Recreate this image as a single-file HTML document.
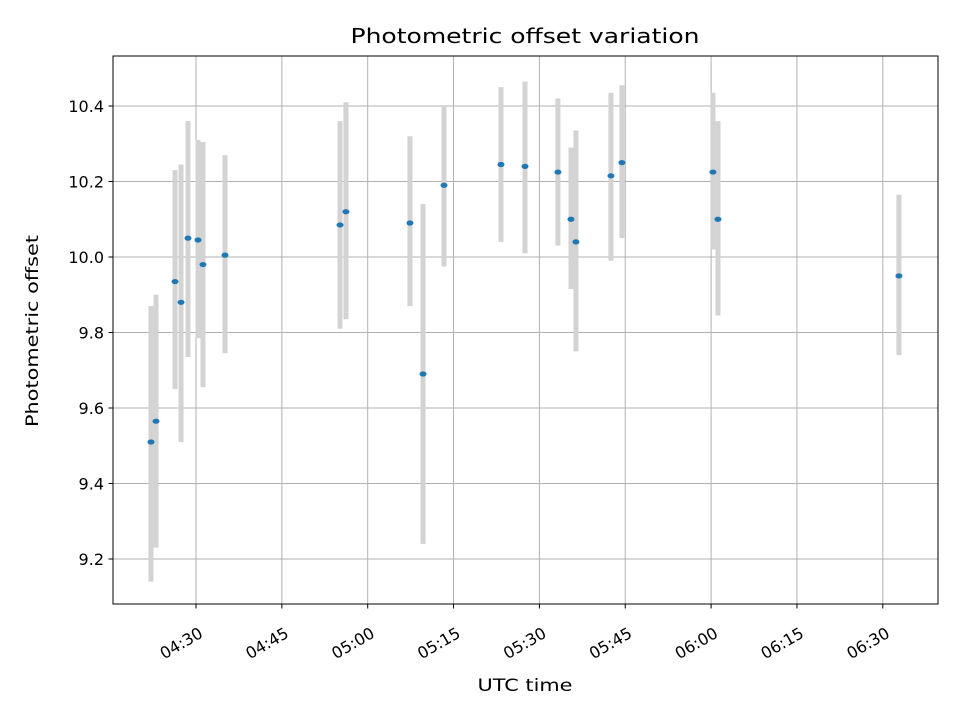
<!DOCTYPE html>
<html><head><meta charset="utf-8"><style>
body{margin:0;background:#fff}
svg text{font-family:"DejaVu Sans","Liberation Sans",sans-serif;fill:#000}
</style></head><body>
<svg id="chart" width="960" height="720" xmlns="http://www.w3.org/2000/svg">
<rect width="960" height="720" fill="#fff"/>
<g id="grid"></g>
<g id="bars"></g>
<g id="pts"></g>
<rect x="113" y="56" width="825" height="548" fill="none" stroke="#000" stroke-width="1"/>
<g id="ticks"></g>
<text x="525" y="43" text-anchor="middle" font-size="20" textLength="349" lengthAdjust="spacingAndGlyphs">Photometric offset variation</text>
<text x="525" y="691" text-anchor="middle" font-size="17" textLength="95" lengthAdjust="spacingAndGlyphs">UTC time</text>
<text transform="translate(38,331) rotate(-90)" text-anchor="middle" font-size="17" textLength="192" lengthAdjust="spacingAndGlyphs">Photometric offset</text>
</svg>
<script>
const times=["04:22:08","04:23:01","04:26:20","04:27:23","04:28:36","04:30:21","04:31:13","04:35:04","04:55:10","04:56:12","05:07:23","05:09:40","05:13:20","05:23:17","05:27:29","05:33:14","05:35:31","05:36:23","05:42:30","05:44:25","06:00:19","06:01:12","06:32:49"];
const values=[9.51,9.565,9.935,9.88,10.05,10.045,9.98,10.005,10.085,10.12,10.09,9.69,10.19,10.245,10.24,10.225,10.10,10.04,10.215,10.25,10.225,10.10,9.95];
const upper=[9.87,9.90,10.23,10.245,10.36,10.31,10.305,10.27,10.36,10.41,10.32,10.14,10.40,10.45,10.465,10.42,10.29,10.335,10.435,10.455,10.435,10.36,10.165];
const lower=[9.14,9.23,9.65,9.51,9.735,9.785,9.655,9.745,9.81,9.835,9.87,9.24,9.975,10.04,10.01,10.03,9.915,9.75,9.99,10.05,10.02,9.845,9.74];
const xTickLabels=["04:30","04:45","05:00","05:15","05:30","05:45","06:00","06:15","06:30"];
const yTickLabels=["9.2","9.4","9.6","9.8","10.0","10.2","10.4"];
const NS="http://www.w3.org/2000/svg";
function mins(s){const p=s.split(":").map(Number);return p[0]*60+p[1]+(p[2]||0)/60;}
const x=m=>196+(m-270)*(85.85/15);
const y=v=>257-(v-10)*(75.5/0.2);
function mk(tag,attrs,parent){const e=document.createElementNS(NS,tag);for(const k in attrs)e.setAttribute(k,attrs[k]);document.getElementById(parent).appendChild(e);return e;}
xTickLabels.forEach(l=>{const px=x(mins(l));
 const g=mk("line",{x1:px,x2:px,y1:56,y2:604,stroke:"#b0b0b0","stroke-width":1},"grid");
 
 
 const t=mk("line",{x1:px,x2:px,y1:604,y2:608.5,stroke:"#000"},"ticks");
 
 
 const tx=mk("text",{transform:`translate(${px+2},${626}) rotate(-30)`,"text-anchor":"end","font-size":"16",dy:"12"},"ticks");
 tx.textContent=l;
 
 
});
yTickLabels.forEach(l=>{const py=y(parseFloat(l));
 const g=mk("line",{x1:113,x2:938,y1:py,y2:py,stroke:"#b0b0b0","stroke-width":1},"grid");
 
 
 const t=mk("line",{x1:108.5,x2:113,y1:py,y2:py,stroke:"#000"},"ticks");
 
 
 const tx=mk("text",{x:104,y:py+6,"text-anchor":"end","font-size":"16"},"ticks");
 tx.textContent=l;
 
 
});
times.forEach((s,i)=>{const px=x(mins(s));
 const b=mk("line",{x1:px,x2:px,y1:y(upper[i]),y2:y(lower[i]),stroke:"#d3d3d3","stroke-width":5},"bars");
 
 
 const p=mk("ellipse",{cx:px,cy:y(values[i]),rx:3.5,ry:2.6,fill:"#1f77b4"},"pts");
 
 
});
</script>
</body></html>
